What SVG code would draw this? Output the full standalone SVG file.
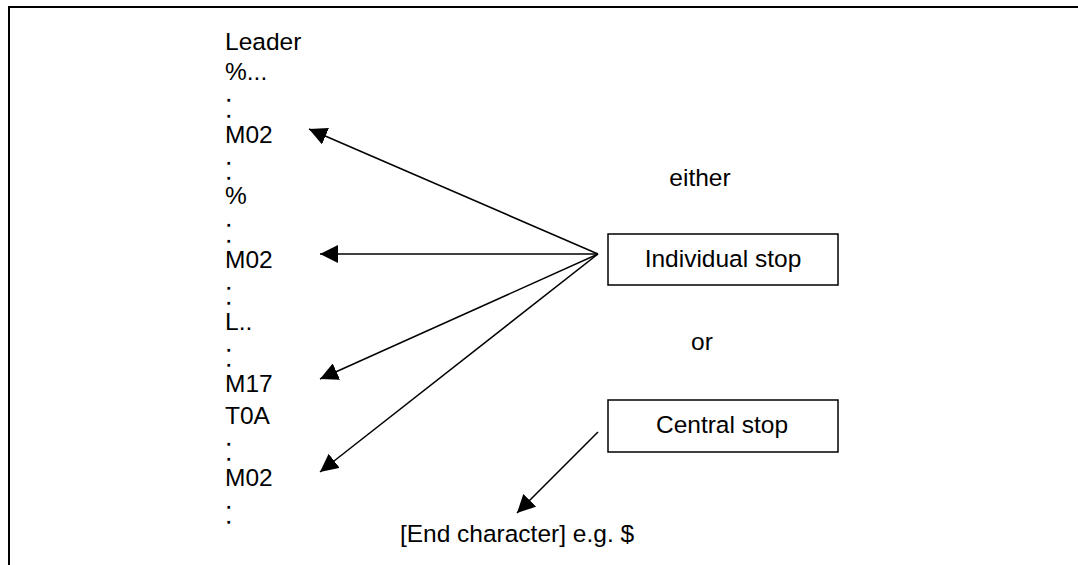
<svg xmlns="http://www.w3.org/2000/svg" width="1078" height="565" viewBox="0 0 1078 565">
<style>
text{font-family:"Liberation Sans",Arial,sans-serif;font-size:24.5px;fill:#000}
text.d{font-size:12.5px;stroke:#000;stroke-width:1.4}
.c{text-anchor:middle}
.box{fill:#fff;stroke:#000;stroke-width:1.5}
.ln{stroke:#000;stroke-width:1.5;fill:none}
</style>
<defs>
<marker id="ah" markerUnits="userSpaceOnUse" markerWidth="19" markerHeight="18" refX="18" refY="9" orient="auto" viewBox="0 0 19 18">
<path d="M0,0 L18,9 L0,18 z" fill="#000"/>
</marker>
</defs>
<rect width="1078" height="565" fill="#fff"/>
<path d="M9,565 V7 H1078" fill="none" stroke="#000" stroke-width="2"/>
<g id="program">
<text x="225" y="50">Leader</text>
<text x="225" y="80">%...</text>
<text class="d" x="227" y="100.5">.</text>
<text class="d" x="227" y="116.5">.</text>
<text x="225" y="143">M02</text>
<text class="d" x="227" y="164">.</text>
<text class="d" x="227" y="179">.</text>
<text x="225" y="204">%</text>
<text class="d" x="227" y="226">.</text>
<text class="d" x="227" y="241.5">.</text>
<text x="225" y="268">M02</text>
<text class="d" x="227" y="289">.</text>
<text class="d" x="227" y="304">.</text>
<text x="225" y="330">L..</text>
<text class="d" x="227" y="351">.</text>
<text class="d" x="227" y="366">.</text>
<text x="225" y="392">M17</text>
<text x="225" y="424">T0A</text>
<text class="d" x="227" y="445">.</text>
<text class="d" x="227" y="460">.</text>
<text x="225" y="486">M02</text>
<text class="d" x="227" y="508">.</text>
<text class="d" x="227" y="522.5">.</text>
</g>
<g id="either"><text class="c" x="700" y="186">either</text></g>
<g id="individual">
<rect class="box" x="608" y="234" width="230" height="51"/>
<text class="c" x="723" y="267">Individual stop</text>
</g>
<g id="or"><text class="c" x="702" y="350">or</text></g>
<g id="central">
<rect class="box" x="608" y="400" width="230" height="52"/>
<text class="c" x="722" y="433">Central stop</text>
</g>
<g id="endchar"><text class="c" x="517" y="542">[End character] e.g. $</text></g>
<g id="connectors">
<line class="ln" x1="598" y1="254" x2="309" y2="129" marker-end="url(#ah)"/>
<line class="ln" x1="598" y1="254" x2="320" y2="254" marker-end="url(#ah)"/>
<line class="ln" x1="598" y1="254" x2="320" y2="379" marker-end="url(#ah)"/>
<line class="ln" x1="598" y1="254" x2="320" y2="472" marker-end="url(#ah)"/>
<line class="ln" x1="598" y1="432" x2="517" y2="513" marker-end="url(#ah)"/>
</g>
</svg>
